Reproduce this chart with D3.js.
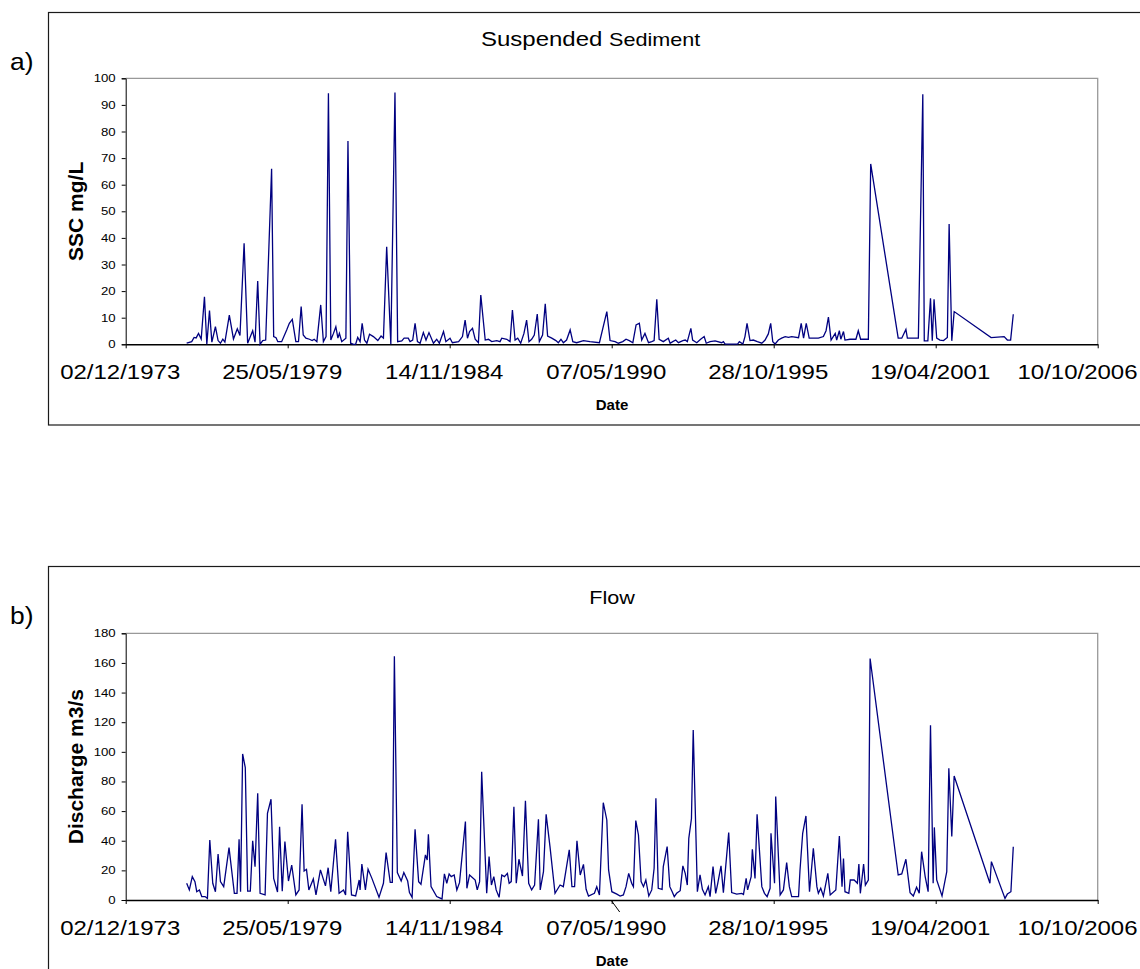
<!DOCTYPE html>
<html>
<head>
<meta charset="utf-8">
<script src="https://cdn.jsdelivr.net/npm/d3@7"></script>
<style>
  body { margin: 0; background: #fff; }
  svg { display: block; font-family: Arial, "Liberation Sans", sans-serif; }
</style>
</head>
<body>
<script>
// x axis tick labels (every 2000 days, as Excel did it)
var dateTicks = ["02/12/1973", "25/05/1979", "14/11/1984", "07/05/1990", "28/10/1995", "19/04/2001", "10/10/2006"];

// suspended sediment, sample dates as decimal years and SSC in mg/L
var sscDates = [1975.98,1976.15,1976.23,1976.30,1976.38,1976.47,1976.58,1976.66,1976.75,1976.83,1976.95,1977.04,1977.12,1977.20,1977.27,1977.42,1977.56,1977.69,1977.78,1977.92,1978.04,1978.21,1978.29,1978.38,1978.46,1978.55,1978.65,1978.85,1978.92,1979.00,1979.06,1979.19,1979.36,1979.45,1979.55,1979.67,1979.76,1979.85,1979.92,1980.01,1980.13,1980.22,1980.29,1980.38,1980.51,1980.60,1980.69,1980.77,1980.85,1980.94,1981.02,1981.09,1981.14,1981.22,1981.36,1981.43,1981.52,1981.62,1981.69,1981.76,1981.84,1981.91,1981.99,1982.07,1982.16,1982.29,1982.44,1982.55,1982.63,1982.74,1982.88,1983.02,1983.11,1983.25,1983.33,1983.47,1983.53,1983.62,1983.70,1983.78,1983.87,1983.98,1984.07,1984.17,1984.32,1984.43,1984.52,1984.66,1984.74,1984.88,1984.96,1985.17,1985.30,1985.39,1985.47,1985.54,1985.64,1985.73,1985.84,1985.92,1986.07,1986.18,1986.29,1986.46,1986.57,1986.63,1986.80,1986.91,1986.99,1987.08,1987.17,1987.27,1987.38,1987.47,1987.55,1987.64,1987.73,1987.83,1987.90,1988.01,1988.10,1988.18,1988.32,1988.46,1988.54,1988.63,1988.71,1988.82,1988.94,1989.03,1989.16,1989.39,1989.61,1989.93,1990.18,1990.29,1990.46,1990.57,1990.72,1990.83,1990.94,1991.06,1991.17,1991.28,1991.36,1991.47,1991.59,1991.70,1991.78,1991.87,1991.95,1992.09,1992.26,1992.32,1992.41,1992.51,1992.60,1992.75,1992.83,1992.90,1993.02,1993.08,1993.22,1993.35,1993.47,1993.54,1993.67,1993.84,1994.06,1994.12,1994.18,1994.40,1994.60,1994.66,1994.78,1994.85,1994.92,1995.02,1995.13,1995.27,1995.42,1995.53,1995.64,1995.72,1995.79,1995.87,1995.98,1996.09,1996.21,1996.32,1996.43,1996.66,1996.75,1996.83,1996.92,1997.02,1997.17,1997.33,1997.50,1997.59,1997.67,1997.76,1997.90,1997.95,1998.04,1998.09,1998.18,1998.23,1998.40,1998.51,1998.60,1998.68,1998.76,1999.02,1999.10,2000.03,2000.15,2000.29,2000.34,2000.71,2000.86,2000.91,2001.03,2001.12,2001.18,2001.24,2001.33,2001.44,2001.56,2001.69,2001.75,2001.84,2001.92,2003.17,2003.61,2003.72,2003.83,2003.92];
var sscValues = [0.4,1,2.6,2.4,4.1,2,17.9,0,12.7,0.8,6.6,1.4,0.4,1.9,0.8,11,2,5.8,3.3,38,0.4,5.1,0.8,23.8,0,1.4,1.6,66,2.9,2.5,1,1,5.4,7.9,9.4,1,1,14.2,3.5,2.3,1.9,1.4,1.9,1,14.8,1,2.9,94.4,1.6,4.1,6.6,2.3,4.1,1,2.3,76.4,0.4,0,0,2.6,1,7.9,1.6,0.4,3.8,2.9,1.4,3.1,2.3,36.7,0,94.7,1,1.3,2.3,2.3,1,1.6,7.9,1,0.4,4.4,1.6,4.4,0.4,1.9,0.4,4.8,1,2.3,0.6,1,2.9,9.1,2.3,4.8,6,1.9,0.6,18.5,1.6,1.9,1,1.4,1,2.3,1.9,1,12.9,1.6,2.3,0.4,4.1,9.1,1,1.9,3.5,11.4,1,3.5,15.2,3.1,2.3,1.4,0.6,1.9,0.6,1.6,5.4,1,0.6,1.4,1,0.6,12.3,1.4,1,0.4,1,1.9,1.4,0.6,7.3,7.9,1.6,4.1,0.6,1,1.4,16.9,1.9,1,2.3,0.4,1,1.6,0.6,1.4,1.6,1,6,1.6,0.6,1.9,2.9,0.4,1,1.3,0.6,1,0.1,0.1,0.1,1,0.1,2.9,7.9,1.4,1.6,1,0.4,1.6,3.9,7.9,1,0.1,1.6,2.3,2.9,2.6,2.9,2.5,7.9,2.3,7.9,2.3,2.3,2.3,2.9,5.1,10.2,1.6,4.1,1.6,5.1,1.9,4.8,1.6,1.9,1.9,1.9,5.1,1.9,1.9,67.8,2.3,2.3,5.6,2.3,2.3,94,1.3,1.3,17.3,1.3,16.9,2.3,1.6,1.4,2.6,45.2,1.3,12.3,2.5,2.9,1.6,1.6,11.3];

// flow, sample dates as decimal years and discharge in m3/s
var flowDates = [1975.98,1976.07,1976.17,1976.26,1976.32,1976.41,1976.49,1976.60,1976.68,1976.76,1976.86,1976.95,1977.04,1977.12,1977.23,1977.41,1977.59,1977.68,1977.75,1977.80,1977.87,1977.96,1978.04,1978.13,1978.21,1978.29,1978.38,1978.46,1978.63,1978.71,1978.83,1978.92,1979.05,1979.12,1979.21,1979.30,1979.42,1979.53,1979.67,1979.78,1979.88,1979.95,1980.03,1980.11,1980.26,1980.35,1980.50,1980.67,1980.76,1980.85,1981.01,1981.13,1981.28,1981.35,1981.42,1981.55,1981.69,1981.81,1981.84,1981.90,1982.02,1982.11,1982.24,1982.48,1982.63,1982.72,1982.86,1982.93,1983.00,1983.10,1983.23,1983.32,1983.45,1983.51,1983.60,1983.70,1983.82,1983.90,1984.05,1984.11,1984.15,1984.24,1984.43,1984.61,1984.69,1984.77,1984.85,1984.92,1985.02,1985.11,1985.20,1985.40,1985.45,1985.54,1985.73,1985.80,1985.88,1985.95,1986.12,1986.20,1986.28,1986.36,1986.44,1986.54,1986.63,1986.72,1986.82,1986.88,1986.95,1987.04,1987.12,1987.21,1987.33,1987.43,1987.54,1987.64,1987.74,1987.87,1987.93,1988.04,1988.13,1988.26,1988.43,1988.60,1988.71,1988.91,1989.00,1989.09,1989.17,1989.28,1989.39,1989.48,1989.56,1989.76,1989.84,1989.93,1990.06,1990.18,1990.24,1990.35,1990.52,1990.63,1990.74,1990.83,1990.92,1991.02,1991.08,1991.16,1991.25,1991.34,1991.42,1991.50,1991.60,1991.70,1991.78,1991.84,1991.92,1992.05,1992.09,1992.22,1992.31,1992.39,1992.46,1992.54,1992.66,1992.75,1992.83,1992.90,1992.95,1993.04,1993.10,1993.24,1993.33,1993.41,1993.50,1993.61,1993.67,1993.77,1993.86,1993.93,1994.04,1994.12,1994.30,1994.40,1994.57,1994.74,1994.80,1994.89,1994.94,1995.06,1995.10,1995.19,1995.26,1995.42,1995.51,1995.60,1995.70,1995.73,1995.85,1995.89,1996.04,1996.15,1996.26,1996.35,1996.43,1996.66,1996.71,1996.80,1996.91,1997.03,1997.16,1997.28,1997.33,1997.41,1997.50,1997.65,1997.73,1997.92,1998.04,1998.13,1998.18,1998.23,1998.36,1998.41,1998.54,1998.65,1998.70,1998.75,1998.86,1998.92,1999.02,1999.08,2000.03,2000.15,2000.29,2000.43,2000.54,2000.65,2000.74,2000.82,2000.94,2001.04,2001.12,2001.21,2001.25,2001.33,2001.51,2001.67,2001.74,2001.84,2001.92,2003.13,2003.18,2003.64,2003.72,2003.84,2003.92];
var flowValues = [11.3,6.8,15.8,12.4,5.6,6.8,2.3,2.3,1.1,40.5,11.3,5.6,31,12.4,9,35.3,4.5,4.5,41,5.6,98.6,89.3,6,6,40,22.5,72,4.5,3.4,58.5,68,14.6,5.4,49.5,6,39.4,12.8,23.6,3.4,6.8,64.6,19.6,20.7,6.8,14.2,3.4,20.3,9.5,21.8,5.6,41,4.5,6.8,3.4,46,3.4,2.7,13.5,6.8,24.3,6.8,20.7,14.6,1.8,11.3,32,11.9,11.9,164.5,18.5,12.8,18.5,12.8,5,1.8,47.7,12.4,10.6,30.4,27,44.3,9,2.3,0.7,17.6,11.3,17.6,15.8,16.9,6.8,11.7,52.9,7.9,16.9,13.5,6.8,12.4,86.6,4.5,29.3,10.1,15.8,6.8,1.8,16.9,15.8,18,11.3,12.4,63,11.3,27.5,16.2,67,11.3,6.8,10.1,54.5,6.8,19.1,57.8,36,4.5,10.1,9,33.8,9,9,40,16.9,24,7.2,2.7,4.5,9,3.4,65.7,54,20.3,5.6,4,2.7,3.4,9,18,11.3,9,53.6,43.9,12.4,9,13.5,2.7,6.8,21.4,68.6,7.9,7.2,22.5,36,9,5.6,2.3,4.5,6.3,23,18,10.1,41.6,55,114.8,5.6,16.9,7.2,3.4,9,2.3,22.5,4.5,11.3,23,5,45.5,5,4,4.5,3.8,14.6,6.8,15.8,34.2,14.6,57.8,9,4.5,2.3,7.9,45,11.3,69.8,3.4,6.8,25.2,9,2.3,2.3,20.3,45,56.7,5.6,34.9,9,4.5,7.9,2.7,18,3.4,6.8,43.2,9,28,5.6,4.5,13.5,13.5,11.3,24.3,4.5,24.3,10.1,13.5,163,16.9,17.6,27.5,5,2.7,8.6,4.5,32.6,15.8,5.6,118,11.3,49,13.5,2.7,19.1,88.9,42.8,83.7,11.3,25.9,1.1,4,5.6,36];

var sscTicks = d3.range(0, 101, 10);
var flowTicks = d3.range(0, 181, 20);

var width = 1140, height = 969;
var sx = 1.2;   // the original chart text is drawn a bit wider than normal

var svg = d3.select("body").append("svg")
    .attr("width", width)
    .attr("height", height);

var parseDay = d3.timeParse("%d/%m/%Y");

// decimal year -> Date
function toDate(v) {
    var yr = Math.floor(v);
    var a = new Date(yr, 0, 1), b = new Date(yr + 1, 0, 1);
    return new Date(+a + (v - yr) * (b - a));
}

// stretch a text horizontally around its own anchor point
function wide(t) {
    var tx = +t.attr("x") || 0;
    t.attr("x", tx / sx).attr("transform", "scale(" + sx + ",1)");
}

var x = d3.scaleTime()
    .domain([parseDay(dateTicks[0]), parseDay(dateTicks[dateTicks.length - 1])])
    .range([125.7, 1097.7]);

function drawPanel(p) {
    var g = svg.append("g");

    // outer chart box (runs past the picture edge)
    g.append("rect")
        .attr("x", 48.5).attr("y", p.boxTop)
        .attr("width", 1200).attr("height", p.boxBottom - p.boxTop)
        .attr("fill", "none").attr("stroke", "#1a1a1a").attr("stroke-width", 1.2);

    g.append("text")
        .attr("transform", "translate(10," + (p.boxTop + 57) + ") scale(1.1,1)")
        .attr("font-size", 24)
        .text(p.letter);

    var y = d3.scaleLinear().domain([0, p.yMax]).range([p.bottom, p.top]);

    // plot area border (grey top and right)
    g.append("path")
        .attr("d", "M" + x.range()[0] + "," + y(p.yMax) + "H" + x.range()[1] + "V" + y(0))
        .attr("fill", "none").attr("stroke", "#999").attr("stroke-width", 1.3);

    var yAxis = g.append("g")
        .attr("transform", "translate(" + x.range()[0] + ",0)")
        .call(d3.axisLeft(y).tickValues(p.ticks).tickSize(4).tickPadding(6));
    yAxis.select(".domain").attr("stroke", "#000");
    yAxis.selectAll("text")
        .attr("font-size", 11).attr("font-family", null).attr("fill", "#000")
        .each(function() { wide(d3.select(this)); });

    var xAxis = g.append("g")
        .attr("transform", "translate(0," + y(0) + ")")
        .call(d3.axisBottom(x)
            .tickValues(dateTicks.map(parseDay))
            .tickFormat(d3.timeFormat("%d/%m/%Y"))
            .tickSize(4).tickSizeOuter(0).tickPadding(17));
    xAxis.select(".domain").attr("stroke", "#000").attr("stroke-width", 1.4);
    xAxis.selectAll(".tick text")
        .attr("font-size", 20).attr("font-family", null).attr("fill", "#000")
        .attr("dx", -6 / sx)
        .attr("transform", "scale(" + sx + ",1)");
    // the last label is pulled in so it stays inside the chart box
    xAxis.selectAll(".tick text").filter(function(d, i) { return i === dateTicks.length - 1; })
        .attr("text-anchor", "end")
        .attr("dx", (1137 - x.range()[1]) / sx);

    var line = d3.line()
        .x(function(d) { return x(toDate(d[0])); })
        .y(function(d) { return y(d[1]); });

    g.append("path")
        .datum(d3.zip(p.dates, p.values))
        .attr("d", line)
        .attr("fill", "none")
        .attr("stroke", "#000080")
        .attr("stroke-width", 1.3);

    // axis titles
    g.append("text")
        .attr("transform", "translate(83," + ((p.top + p.bottom) / 2) + ") rotate(-90)")
        .attr("text-anchor", "middle")
        .attr("font-size", 21).attr("font-weight", "bold")
        .text(p.ylabel);

    g.append("text")
        .attr("x", 612).attr("y", p.bottom + 66)
        .attr("text-anchor", "middle")
        .attr("font-size", 15).attr("font-weight", "bold")
        .text("Date");

    return { g: g, y: y };
}

var a = drawPanel({
    boxTop: 12.5, boxBottom: 425, top: 78.3, bottom: 344.3,
    yMax: 100, ticks: sscTicks, dates: sscDates, values: sscValues,
    letter: "a)", ylabel: "SSC mg/L"
});
var title = a.g.append("text")
    .attr("transform", "translate(481,46) scale(" + sx + ",1)");
title.append("tspan").attr("font-size", 20).text("Suspended ");
title.append("tspan").attr("font-size", 18).text("Sediment");

var b = drawPanel({
    boxTop: 566.5, boxBottom: 990, top: 633.3, bottom: 900,
    yMax: 180, ticks: flowTicks, dates: flowDates, values: flowValues,
    letter: "b)", ylabel: "Discharge m3/s"
});
b.g.append("text")
    .attr("transform", "translate(612,604) scale(" + sx + ",1)")
    .attr("text-anchor", "middle")
    .attr("font-size", 18)
    .text("Flow");

// stray leader line under the 1990 tick in the flow panel
var t90 = x(parseDay(dateTicks[3]));
b.g.append("line")
    .attr("x1", t90).attr("y1", b.y(0) + 1)
    .attr("x2", t90 + 8).attr("y2", b.y(0) + 12)
    .attr("stroke", "#000").attr("stroke-width", 1);
</script>
</body>
</html>
